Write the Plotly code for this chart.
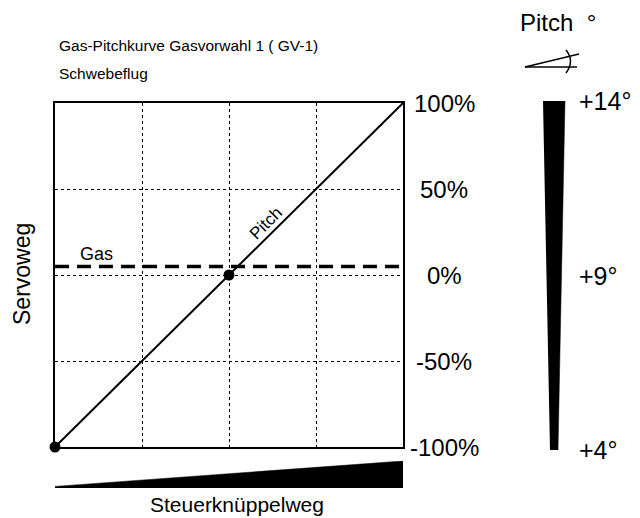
import plotly.graph_objects as go

# --- data ---
stick = [-100, 0, 100]                 # Steuerknüppelweg (%)
pitch_curve = [-100, 0, 100]           # Pitch servo travel (%)
gas_curve = [5, 5, 5]                  # Gas servo travel (%), hover setting
servo_ticks = [100, 50, 0, -50, -100]
servo_labels = ["100%", "50%", "0%", "-50%", "-100%"]
pitch_deg = [4, 9, 14]
pitch_deg_labels = ["+4°", "+9°", "+14°"]
stick_wedge = [0.06, 1.0]              # relative height of the stick-travel wedge

# the page puts the figure 8px in from the top-left corner
OFF = 8
W, H = 640 - OFF, 518 - OFF
FONT = "Liberation Sans"


def px(x):
    return (x - OFF) / W


def py(y):
    return 1 - (y - OFF) / H


fig = go.Figure()

# Pitch line
fig.add_trace(go.Scatter(
    x=stick, y=pitch_curve, mode="lines",
    line=dict(color="black", width=2), cliponaxis=False
))
# Gas line (dashed)
fig.add_trace(go.Scatter(
    x=stick, y=gas_curve, mode="lines",
    line=dict(color="black", width=3.5, dash="14px,8px"), cliponaxis=False
))
# Curve points
fig.add_trace(go.Scatter(
    x=stick[:2], y=pitch_curve[:2], mode="markers",
    marker=dict(color="black", size=11), cliponaxis=False
))

# Pitch degree wedge (right)
top_half, bot_half = 11, 4
wedge_w = 46
fig.add_trace(go.Scatter(
    x=[-top_half / (wedge_w / 2), top_half / (wedge_w / 2),
       bot_half / (wedge_w / 2), -bot_half / (wedge_w / 2)],
    y=[pitch_deg[-1], pitch_deg[-1], pitch_deg[0], pitch_deg[0]],
    mode="lines", fill="toself", fillcolor="black",
    line=dict(color="black", width=0.5),
    xaxis="x2", yaxis="y2"
))

# Stick travel wedge (bottom)
fig.add_trace(go.Scatter(
    x=[stick[0], stick[-1]], y=stick_wedge, mode="lines",
    fill="tozeroy", fillcolor="black", line=dict(color="black", width=0.5),
    xaxis="x3", yaxis="y3"
))

ann = []
for v, t in zip(servo_ticks, servo_labels):
    ann.append(dict(x=px(444), xref="paper", y=v, yref="y", text=t,
                    xanchor="center", font=dict(size=24)))
for v, t in zip(pitch_deg, pitch_deg_labels):
    ann.append(dict(x=px(577), xref="paper", y=v, yref="y2", text=t,
                    xanchor="left", font=dict(size=25)))

ann += [
    dict(x=px(57), y=py(46), text="Gas-Pitchkurve Gasvorwahl 1 ( GV-1)",
         xanchor="left", font=dict(size=15.5)),
    dict(x=px(57), y=py(73), text="Schwebeflug",
         xanchor="left", font=dict(size=15.5)),
    dict(x=px(518), y=py(22), text="Pitch  °", xanchor="left",
         font=dict(size=24)),
    dict(x=px(22), y=py(274), text="Servoweg", textangle=-90,
         xanchor="center", font=dict(size=23)),
    dict(x=px(237), y=py(504), text="Steuerknüppelweg", xanchor="center",
         font=dict(size=21)),
    dict(x=-76, y=12, xref="x", yref="y", text="Gas", xanchor="center",
         font=dict(size=18)),
    dict(x=21, y=30, xref="x", yref="y", text="Pitch", textangle=-45,
         xanchor="center", font=dict(size=17)),
]
for a in ann:
    a.setdefault("xref", "paper")
    a.setdefault("yref", "paper")
    a.setdefault("yanchor", "middle")
    a["showarrow"] = False

# Pitch angle icon
icon = [
    dict(type="line", x0=px(525), y0=py(67), x1=px(577), y1=py(67)),
    dict(type="line", x0=px(525), y0=py(67), x1=px(579), y1=py(54)),
    dict(type="path", path=f"M {px(566)} {py(50)} Q {px(575)} {py(61)} {px(566)} {py(73)}"),
]
for s in icon:
    s.update(xref="paper", yref="paper", line=dict(color="black", width=1.5))

plot_x = [px(55), px(403)]

fig.update_layout(
    width=W, height=H,
    margin=dict(l=0, r=0, t=0, b=0),
    paper_bgcolor="white", plot_bgcolor="white",
    showlegend=False,
    font=dict(family=FONT, color="black"),
    xaxis=dict(domain=plot_x, range=[-100, 100], dtick=50,
               tick0=0, showgrid=True, gridcolor="black", griddash="dot",
               gridwidth=1, zeroline=False, showticklabels=False, ticks="",
               showline=True, linecolor="black", linewidth=1.5, mirror=True),
    yaxis=dict(domain=[py(447), py(103)], range=[-100, 100], dtick=50,
               tick0=0, showgrid=True, gridcolor="black", griddash="dot",
               gridwidth=1, zeroline=False, showticklabels=False, ticks="",
               showline=True, linecolor="black", linewidth=1.5, mirror=True),
    xaxis2=dict(domain=[px(554 - wedge_w / 2), px(554 + wedge_w / 2)],
                range=[-1, 1], visible=False, anchor="y2"),
    yaxis2=dict(domain=[py(450), py(101)], range=[4, 14], visible=False,
                anchor="x2"),
    xaxis3=dict(domain=plot_x, range=[-100, 100], visible=False,
                anchor="y3"),
    yaxis3=dict(domain=[py(488), py(461)], range=[0, 1], visible=False,
                anchor="x3"),
    annotations=ann,
    shapes=icon,
)

fig.write_html("out.html")
